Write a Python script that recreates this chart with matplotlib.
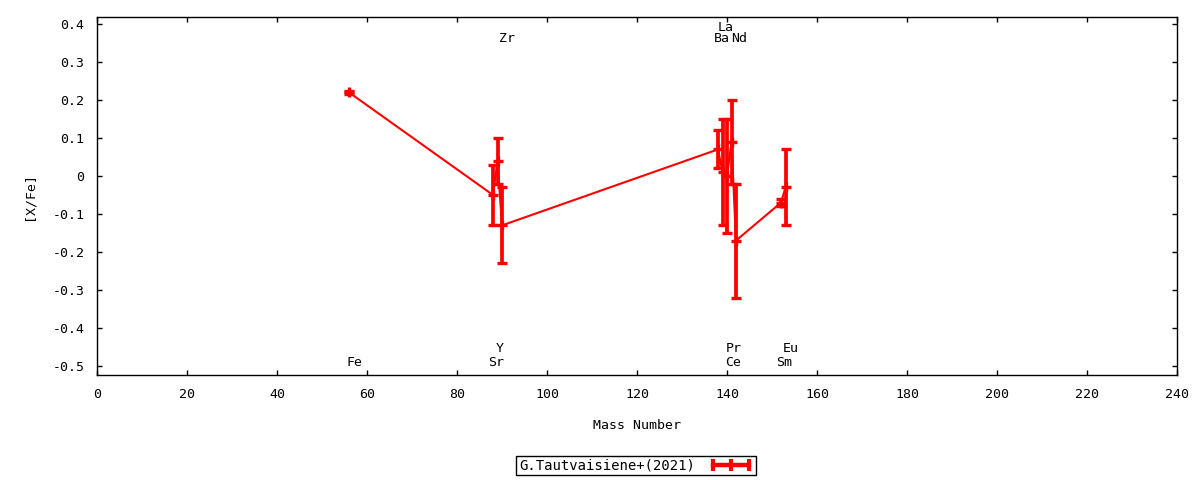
import matplotlib
matplotlib.use("Agg")
import matplotlib.pyplot as plt
from matplotlib.lines import Line2D

# abundance pattern, G.Tautvaisiene+(2021)
elements = ["Fe", "Sr", "Y", "Zr", "Ba", "La", "Ce", "Pr", "Nd", "Sm", "Eu"]
mass = [56, 88, 89, 90, 138, 139, 140, 141, 142, 152, 153]
xfe = [0.22, -0.05, 0.04, -0.13, 0.07, 0.01, 0.00, 0.09, -0.17, -0.07, -0.03]
err = [0.003, 0.08, 0.06, 0.10, 0.05, 0.14, 0.15, 0.11, 0.15, 0.01, 0.10]

# element name labels (data coords)
label_x = [57.3, 88.6, 89.4, 91.0, 138.8, 139.6, 141.3, 141.6, 142.8, 152.6, 154.2]
label_y = [-0.492, -0.492, -0.455, 0.363, 0.363, 0.392, -0.492, -0.455, 0.363, -0.492, -0.455]

xticks = list(range(0, 241, 20))
yticks = [-0.5, -0.4, -0.3, -0.2, -0.1, 0.0, 0.1, 0.2, 0.3, 0.4]

FONT = "DejaVu Sans Mono"
FS = 9.5
RED = "#ff0000"

plt.rcParams["font.family"] = FONT
plt.rcParams["font.size"] = FS

fig = plt.figure(figsize=(12, 4.8), dpi=100)
ax = fig.add_axes([97 / 1200, 105 / 480, 1080 / 1200, 358 / 480])

ax.errorbar(mass, xfe, yerr=err, color=RED, linewidth=1.5,
            marker="+", markersize=7.5, markeredgewidth=2.4,
            elinewidth=2.7, capsize=3.3, capthick=2.7)

for name, lx, ly in zip(elements, label_x, label_y):
    ax.text(lx, ly, name, ha="center", va="center", fontsize=FS, family=FONT)

ax.set_xlim(0, 240)
ax.set_ylim(-0.5237, 0.4184)
ax.set_xticks(xticks)
ax.set_yticks(yticks)
ax.set_yticklabels(["{:g}".format(round(v, 1)) for v in yticks])
ax.tick_params(direction="in", length=3.5, width=1, top=True, right=True,
               pad=9, labelsize=FS)
for sp in ax.spines.values():
    sp.set_linewidth(1)

ax.set_xlabel("Mass Number", fontsize=FS, labelpad=13)
ax.set_ylabel("[X/Fe]", fontsize=FS, labelpad=12)

handle = Line2D([0, 1], [0, 0], color=RED, linewidth=3.2, marker="|",
                markersize=8, markeredgewidth=3)
leg = fig.legend([handle], ["G.Tautvaisiene+(2021)"], loc="center",
                 bbox_to_anchor=(636 / 1200, 1 - 465.5 / 480), numpoints=3,
                 markerfirst=False, fancybox=False, framealpha=1,
                 edgecolor="black", handlelength=3.2, borderpad=0.2,
                 handletextpad=1.0, borderaxespad=0, fontsize=FS + 0.5)
leg.get_frame().set_linewidth(1)

fig.savefig("out.png", dpi=100)
